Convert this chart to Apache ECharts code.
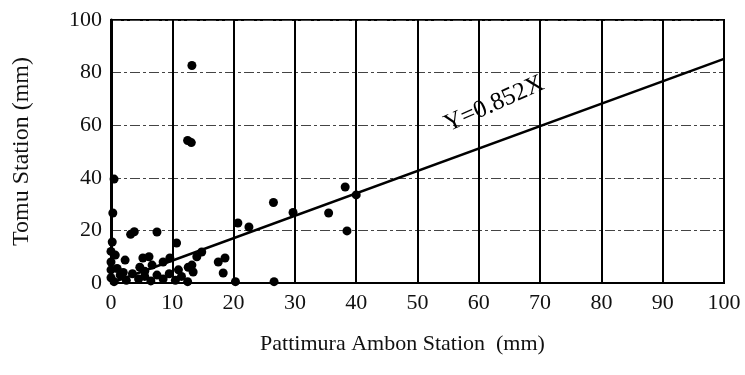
<!DOCTYPE html>
<html>
<head>
<meta charset="utf-8">
<script src="https://cdn.jsdelivr.net/npm/echarts@6/dist/echarts.min.js"></script>
<style>
  html, body { margin: 0; padding: 0; background: #fff; }
  #chart { width: 745px; height: 375px; }
</style>
</head>
<body>
<div id="chart"></div>
<script>
// rainfall pairs (mm)
var pattimura = [13.2, 12.5, 13.1, 0.5, 0.3, 26.5, 29.7, 35.5, 38.2, 40, 38.5, 20.7, 22.5, 14.8, 17.5, 18.6, 18.3, 20.3, 26.6, 13.2,
                 13.4, 3.2, 3.8, 7.5, 10.7, 0.2, 0.7, 2.3, 5.2, 6.2, 4.7, 6.7, 8.5, 9.6, 12.6, 14, 0, 0, 0, 0,
                 0.5, 1.5, 2.5, 3.5, 4.5, 5.5, 6.5, 7.5, 8.5, 9.5, 10.5, 11.5, 12.5, 1, 2, 5.5, 11];
var tomu = [82.7, 54.2, 53.4, 39.5, 26.6, 30.6, 26.8, 26.6, 36.5, 33.5, 19.8, 22.8, 21.3, 11.8, 8, 9.5, 3.8, 0.5, 0.5, 6.8,
            4.2, 18.5, 19.5, 19.4, 15.2, 15.6, 10.6, 8.7, 9.5, 10, 6, 6.8, 8, 9.5, 6, 10, 12, 8, 5, 2,
            0.5, 3, 1, 3.5, 1.5, 2.5, 0.8, 3, 1.5, 3.5, 1, 2.5, 0.5, 5.5, 4, 4.5, 5];
var slope = 0.852;

var points = pattimura.map(function (x, i) { return [x, tomu[i]]; });
var fitLine = [[0, 0], [100, slope * 100]];

var myChart = echarts.init(document.getElementById('chart'));
var font = '"Liberation Serif", "Times New Roman", serif';

var option = {
  backgroundColor: '#fff',
  animation: false,
  grid: {
    left: 111, top: 20, right: 21, bottom: 92,
    show: true, borderColor: '#000', borderWidth: 2
  },
  xAxis: {
    type: 'value',
    min: 0, max: 100, interval: 10,
    name: 'Pattimura Ambon Station  (mm)',
    nameLocation: 'middle',
    nameGap: 50,
    nameTextStyle: { fontFamily: font, fontSize: 22, color: '#111', padding: [0, 30, 0, 0] },
    axisLine: { show: true, lineStyle: { color: '#000', width: 2 } },
    axisTick: { show: false },
    axisLabel: { fontFamily: font, fontSize: 22, color: '#111', margin: 9 },
    splitLine: { show: true, lineStyle: { color: '#000', width: 2 } }
  },
  yAxis: {
    type: 'value',
    min: 0, max: 100, interval: 20,
    name: 'Tomu Station (mm)',
    nameLocation: 'middle',
    nameGap: 77,
    nameTextStyle: { fontFamily: font, fontSize: 24, color: '#111' },
    axisLine: { show: true, lineStyle: { color: '#000', width: 3 } },
    axisTick: { show: false },
    axisLabel: { fontFamily: font, fontSize: 22, color: '#111', margin: 9 },
    splitLine: { show: true, lineStyle: { color: '#444', width: 1, type: [10, 3, 3, 3] } }
  },
  series: [
    {
      type: 'line',
      data: fitLine,
      symbol: 'none',
      lineStyle: { color: '#000', width: 2.5 },
      z: 3,
      markPoint: {
        symbol: 'circle',
        symbolSize: 0,
        data: [{ coord: [62.5, 68] }],
        label: {
          show: true,
          formatter: 'Y=0.852X',
          rotate: 24,
          fontFamily: font,
          fontSize: 25,
          color: '#000'
        }
      }
    },
    {
      type: 'scatter',
      data: points,
      symbol: 'circle',
      symbolSize: 9,
      itemStyle: { color: '#000', opacity: 1 },
      z: 4
    }
  ]
};

myChart.setOption(option);
</script>
</body>
</html>
